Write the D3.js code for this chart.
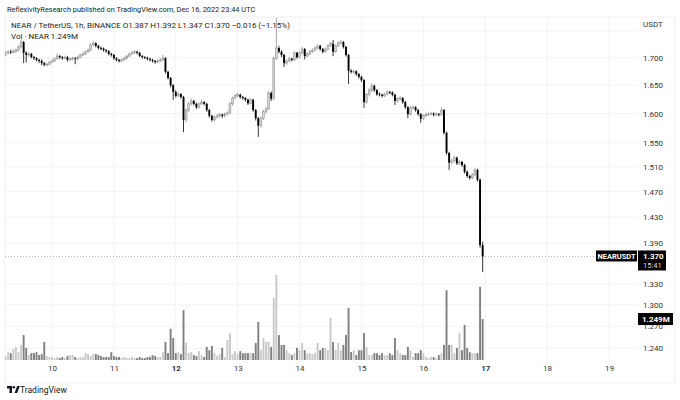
<!DOCTYPE html>
<html>
<head>
<meta charset="utf-8">
<script src="https://cdn.jsdelivr.net/npm/d3@7"></script>
<style>
  body { margin: 0; background: #fff; }
  text { font-family: Roboto, "Liberation Sans", sans-serif; }
</style>
</head>
<body>
<div id="chart"></div>
<script>
// NEAR / TetherUS 1h candles, Dec 9 06:00 UTC .. Dec 16 23:00 UTC
const firstHour = "2022-12-09T06:00:00Z";
const firstOpen = 1.706;

const closes = [
  1.709,1.711,1.710,1.712,1.714,1.720,1.729,1.709,1.705,1.707,
  1.701,1.699,1.696,1.694,1.690,1.687,1.688,1.692,1.694,1.698,
  1.703,1.701,1.699,1.701,1.696,1.698,1.699,1.698,1.701,1.705,
  1.707,1.711,1.714,1.724,1.727,1.722,1.718,1.717,1.714,1.712,
  1.707,1.705,1.699,1.696,1.694,1.696,1.699,1.703,1.707,1.709,
  1.711,1.709,1.703,1.701,1.700,1.698,1.696,1.694,1.692,1.694,
  1.696,1.699,1.674,1.663,1.650,1.638,1.631,1.634,1.629,1.589,
  1.606,1.617,1.622,1.617,1.611,1.617,1.620,1.617,1.606,1.596,
  1.589,1.594,1.596,1.598,1.596,1.599,1.601,1.617,1.627,1.631,
  1.633,1.629,1.627,1.624,1.618,1.624,1.606,1.592,1.579,1.592,
  1.603,1.608,1.636,1.626,1.699,1.718,1.711,1.705,1.690,1.694,
  1.698,1.696,1.709,1.701,1.709,1.716,1.703,1.707,1.711,1.714,
  1.718,1.722,1.716,1.711,1.716,1.722,1.726,1.711,1.722,1.727,
  1.729,1.720,1.705,1.676,1.674,1.675,1.670,1.665,1.659,1.620,
  1.633,1.641,1.649,1.641,1.634,1.633,1.631,1.634,1.638,1.637,
  1.633,1.622,1.626,1.627,1.620,1.611,1.599,1.610,1.611,1.606,
  1.599,1.591,1.596,1.598,1.599,1.600,1.598,1.599,1.598,1.606,
  1.567,1.533,1.517,1.520,1.525,1.516,1.518,1.513,1.502,1.495,
  1.492,1.497,1.505,1.489,1.387,1.370
];

const highs = [
  1.712,1.714,1.715,1.716,1.717,1.723,1.734,1.731,1.712,1.710,
  1.709,1.703,1.701,1.698,1.697,1.692,1.691,1.694,1.697,1.700,
  1.708,1.705,1.703,1.704,1.703,1.700,1.702,1.701,1.704,1.707,
  1.710,1.713,1.717,1.727,1.731,1.729,1.724,1.721,1.719,1.716,
  1.714,1.709,1.707,1.701,1.698,1.699,1.702,1.705,1.709,1.712,
  1.714,1.713,1.711,1.705,1.703,1.702,1.700,1.698,1.696,1.697,
  1.699,1.705,1.701,1.676,1.665,1.652,1.641,1.637,1.636,1.631,
  1.609,1.620,1.626,1.624,1.619,1.619,1.624,1.622,1.619,1.608,
  1.598,1.597,1.599,1.601,1.600,1.602,1.604,1.620,1.630,1.634,
  1.636,1.635,1.631,1.629,1.626,1.627,1.626,1.608,1.594,1.595,
  1.606,1.612,1.640,1.639,1.702,1.775,1.722,1.714,1.707,1.697,
  1.701,1.700,1.712,1.711,1.712,1.720,1.718,1.710,1.714,1.717,
  1.721,1.725,1.724,1.718,1.719,1.725,1.729,1.733,1.725,1.731,
  1.733,1.731,1.722,1.707,1.679,1.678,1.677,1.672,1.667,1.661,
  1.636,1.645,1.653,1.651,1.643,1.637,1.635,1.637,1.641,1.640,
  1.639,1.635,1.629,1.631,1.629,1.622,1.613,1.613,1.614,1.613,
  1.608,1.601,1.599,1.601,1.602,1.603,1.602,1.602,1.601,1.611,
  1.608,1.569,1.535,1.523,1.528,1.527,1.521,1.520,1.515,1.504,
  1.497,1.500,1.508,1.507,1.491,1.392
];

const lows = [
  1.703,1.706,1.707,1.708,1.709,1.712,1.717,1.690,1.691,1.702,
  1.699,1.696,1.693,1.690,1.686,1.684,1.684,1.686,1.690,1.692,
  1.696,1.698,1.696,1.697,1.693,1.694,1.695,1.688,1.695,1.699,
  1.703,1.705,1.709,1.712,1.721,1.719,1.715,1.714,1.711,1.709,
  1.704,1.702,1.696,1.693,1.691,1.691,1.694,1.697,1.701,1.705,
  1.707,1.706,1.701,1.698,1.697,1.695,1.693,1.691,1.689,1.690,
  1.692,1.694,1.671,1.660,1.646,1.624,1.628,1.629,1.626,1.568,
  1.585,1.603,1.614,1.614,1.608,1.609,1.615,1.614,1.603,1.593,
  1.586,1.587,1.591,1.593,1.592,1.593,1.597,1.599,1.614,1.625,
  1.629,1.626,1.624,1.621,1.615,1.616,1.603,1.588,1.560,1.576,
  1.589,1.600,1.606,1.622,1.623,1.696,1.708,1.701,1.683,1.687,
  1.692,1.693,1.694,1.698,1.699,1.706,1.697,1.701,1.705,1.709,
  1.712,1.716,1.713,1.708,1.709,1.714,1.720,1.703,1.709,1.720,
  1.725,1.717,1.702,1.652,1.671,1.671,1.667,1.662,1.656,1.610,
  1.617,1.630,1.638,1.638,1.631,1.630,1.628,1.629,1.632,1.634,
  1.630,1.615,1.619,1.623,1.617,1.608,1.592,1.597,1.607,1.603,
  1.596,1.584,1.589,1.594,1.596,1.597,1.595,1.596,1.595,1.596,
  1.564,1.530,1.505,1.514,1.517,1.513,1.513,1.510,1.499,1.492,
  1.489,1.490,1.495,1.486,1.383,1.347
];

// volume in millions of NEAR
const volumes = [
  .12,.24,.21,.34,.40,.24,.46,.76,.37,.15,
  .21,.21,.24,.15,.18,.55,.12,.09,.09,.06,
  .09,.06,.09,.06,.12,.15,.15,.09,.06,.09,
  .09,.21,.18,.12,.18,.18,.15,.12,.09,.09,
  .09,.24,.12,.09,.09,.06,.09,.06,.06,.09,
  .06,.06,.09,.06,.06,.09,.09,.15,.12,.09,
  .09,.24,.55,.21,.95,.67,.21,.24,.18,1.52,
  .52,.21,.24,.15,.12,.27,.15,.09,.40,.30,
  .43,.21,.12,.18,.37,.09,.61,.82,.18,.27,
  .18,.27,.21,.21,.21,.21,.21,.52,1.16,.30,
  .67,.55,.55,.40,1.89,2.59,.76,.46,.46,.30,
  .21,.15,.21,.37,.30,.52,.30,.21,.21,.18,
  .21,.52,.30,.37,.37,.30,1.28,.55,.30,.52,
  .30,.46,.76,1.59,.24,.30,.15,.30,.30,.82,
  .40,.15,.15,.21,.21,.15,.21,.15,.15,.21,
  .15,.67,.30,.21,.15,.15,.40,.30,.09,.21,
  .21,.30,.21,.09,.06,.09,.09,.06,.15,.21,
  .46,2.13,.46,.46,.21,.37,.82,.30,1.07,.37,
  .24,.21,.21,.21,2.23,1.249
];

const priceTicks = [1.24, 1.27, 1.30, 1.33, 1.39, 1.43, 1.47, 1.51, 1.55, 1.60, 1.65, 1.70];
const dayTicks = [10, 11, 12, 13, 14, 15, 16, 17, 18, 19];
const boldDays = [12, 17];

const W = 680, H = 400;
const paneL = 5, paneR = 675, paneT = 17, paneB = 383;
const plotR = 638, volBase = 360;

const t0 = new Date(firstHour).getTime();
const candles = closes.map((c, i) => ({
  t: new Date(t0 + i * 3600e3),
  o: i ? closes[i - 1] : firstOpen,
  h: highs[i], l: lows[i], c: c, v: volumes[i]
}));

const x = d3.scaleUtc()
  .domain([Date.UTC(2022, 11, 10), Date.UTC(2022, 11, 19)])
  .range([52, 609]);
const y = d3.scaleLog().domain([1.24, 1.70]).range([348.3, 57.7]);
const yv = d3.scaleLinear().domain([0, 3]).range([volBase, volBase - 98.4]);

const svg = d3.select("#chart").append("svg")
  .attr("width", W).attr("height", H)
  .style("display", "block");

svg.append("rect").attr("width", W).attr("height", H).attr("fill", "#fff");

svg.append("text")
  .attr("x", 7).attr("y", 12)
  .attr("font-size", 7.4).attr("fill", "#222")
  .text("ReflexivityResearch published on TradingView.com, Dec 16, 2022 23:44 UTC");

// pane frame
svg.append("rect")
  .attr("x", paneL).attr("y", paneT)
  .attr("width", paneR - paneL).attr("height", paneB - paneT)
  .attr("fill", "none").attr("stroke", "#eceff4");

const dayDates = dayTicks.map(d => new Date(Date.UTC(2022, 11, d)));

// grid
const grid = svg.append("g");
grid.selectAll(".hg").data(priceTicks.concat([1.75])).enter().append("line")
  .attr("x1", paneL).attr("x2", plotR)
  .attr("y1", d => y(d)).attr("y2", d => y(d))
  .attr("stroke", "#f1f3f6");
grid.selectAll(".vg").data(dayDates).enter().append("line")
  .attr("x1", d => x(d)).attr("x2", d => x(d))
  .attr("y1", paneT).attr("y2", volBase)
  .attr("stroke", "#f1f3f6");

svg.append("clipPath").attr("id", "plot")
  .append("rect").attr("x", paneL).attr("y", paneT)
  .attr("width", plotR - paneL).attr("height", volBase - paneT);

const plot = svg.append("g").attr("clip-path", "url(#plot)");

const upFill = "#d4d4d4", upLine = "#8c8c8c", downFill = "#000";
const bw = 1.9;

// volume bars
plot.selectAll(".vol").data(candles).enter().append("rect")
  .attr("x", d => x(d.t) - bw / 2)
  .attr("width", bw)
  .attr("y", d => yv(d.v))
  .attr("height", d => volBase - yv(d.v))
  .attr("fill", d => d.c >= d.o ? "#c9c9c9" : "#808080");

// last price dotted line
const lastY = y(closes[closes.length - 1]);
plot.append("line")
  .attr("x1", paneL).attr("x2", plotR)
  .attr("y1", lastY).attr("y2", lastY)
  .attr("stroke", "#9a9a9a").attr("stroke-width", 0.8)
  .attr("stroke-dasharray", "1,2");

// candles
const cg = plot.selectAll(".candle").data(candles).enter().append("g");
cg.append("line")
  .attr("x1", d => x(d.t)).attr("x2", d => x(d.t))
  .attr("y1", d => y(d.h)).attr("y2", d => y(d.l))
  .attr("stroke", d => d.c >= d.o ? upLine : "#000")
  .attr("stroke-width", 0.8);
cg.append("rect")
  .attr("x", d => x(d.t) - bw / 2)
  .attr("width", bw)
  .attr("y", d => y(Math.max(d.o, d.c)))
  .attr("height", d => Math.max(0.8, Math.abs(y(d.o) - y(d.c))))
  .attr("fill", d => d.c >= d.o ? upFill : downFill)
  .attr("stroke", d => d.c >= d.o ? upLine : "none")
  .attr("stroke-width", 0.5);

// legend text
const legend = svg.append("g").attr("font-size", 8).attr("fill", "#222");
legend.append("text").attr("x", 11).attr("y", 28)
  .text("NEAR / TetherUS, 1h, BINANCE  O1.387  H1.392  L1.347  C1.370  \u22120.016 (\u22121.15%)");
legend.append("text").attr("x", 11).attr("y", 39)
  .text("Vol \u00b7 NEAR  1.249M");

// price axis
const yAxis = svg.append("g")
  .attr("transform", `translate(${plotR + 4},0)`)
  .call(d3.axisRight(y).tickValues(priceTicks).tickFormat(d3.format(".3f")).tickSize(0).tickPadding(1));
yAxis.select(".domain").remove();
yAxis.selectAll("text").attr("font-size", 8).attr("fill", "#333")
  .attr("font-family", "Roboto, 'Liberation Sans', sans-serif");

svg.append("text").attr("x", 643).attr("y", 27)
  .attr("font-size", 8).attr("fill", "#333").text("USDT");

// time axis
const xAxis = svg.append("g")
  .attr("transform", `translate(0,${volBase + 3})`)
  .call(d3.axisBottom(x).tickValues(dayDates).tickFormat(d3.utcFormat("%-d")).tickSize(0).tickPadding(2));
xAxis.select(".domain").remove();
xAxis.selectAll("text").attr("font-size", 8).attr("fill", "#333")
  .attr("font-family", "Roboto, 'Liberation Sans', sans-serif")
  .attr("font-weight", d => boldDays.includes(d.getUTCDate()) ? "bold" : "normal");

// last price labels
svg.append("rect").attr("x", 596).attr("y", lastY - 6).attr("width", 41).attr("height", 11).attr("fill", "#000");
svg.append("text").attr("x", 616.5).attr("y", lastY + 2.5).attr("text-anchor", "middle")
  .attr("font-size", 7.5).attr("font-weight", "bold").attr("fill", "#fff").text("NEARUSDT");
svg.append("rect").attr("x", plotR).attr("y", lastY - 6).attr("width", 28).attr("height", 20).attr("fill", "#000");
svg.append("text").attr("x", 643).attr("y", lastY + 2.5)
  .attr("font-size", 8).attr("font-weight", "bold").attr("fill", "#fff").text("1.370");
svg.append("text").attr("x", 643).attr("y", lastY + 11.5)
  .attr("font-size", 7.5).attr("fill", "#ddd").text("15:41");

// last volume label
const lastV = yv(volumes[volumes.length - 1]);
svg.append("rect").attr("x", plotR).attr("y", lastV - 6).attr("width", 35).attr("height", 12).attr("fill", "#000");
svg.append("text").attr("x", 642).attr("y", lastV + 3)
  .attr("font-size", 8).attr("font-weight", "bold").attr("fill", "#fff").text("1.249M");

// TradingView mark
const logo = svg.append("g").attr("transform", "translate(7,386)").attr("fill", "#131722");
logo.append("path").attr("d", "M0 0 H5 V7 H2.5 V2.5 H0 Z");
logo.append("circle").attr("cx", 6.8).attr("cy", 1.3).attr("r", 1.3);
logo.append("path").attr("d", "M7.6 7 L10.2 0 H12.8 L10.2 7 Z");
svg.append("text").attr("x", 20).attr("y", 393)
  .attr("font-size", 8.5).attr("fill", "#131722").text("TradingView");
</script>
</body>
</html>
